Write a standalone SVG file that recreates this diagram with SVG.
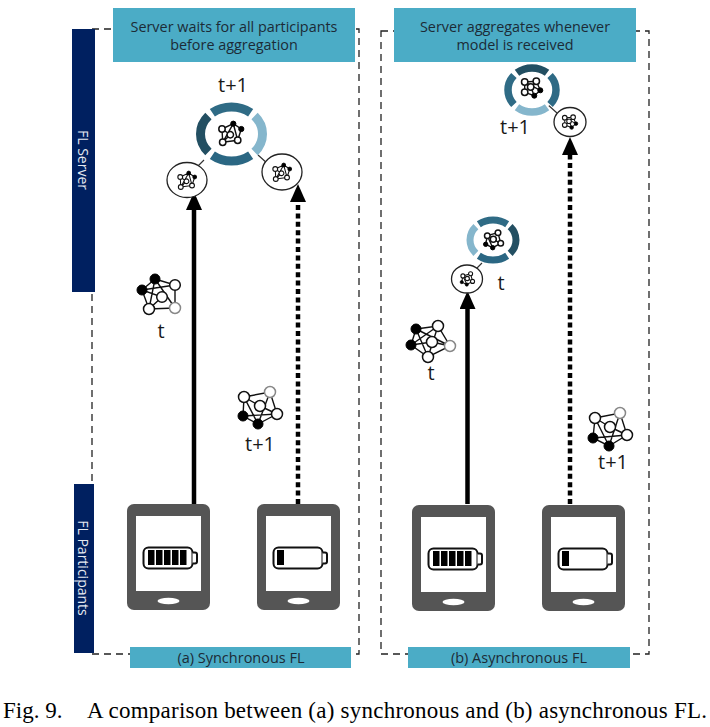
<svg xmlns="http://www.w3.org/2000/svg" xmlns:xlink="http://www.w3.org/1999/xlink" width="710" height="727" viewBox="0 0 710 727">
<style>
text{font-family:"Open Sans","Liberation Sans",sans-serif;fill:#1c2b36;text-anchor:middle}
.hd{font-size:14.400px}
.lb{font-size:20px;fill:#1a1a1a}
.ft{font-size:14.500px}
.nv{font-size:14px;fill:#e4e8f0}
.cap{font-family:"Liberation Serif",serif;font-size:23px;fill:#000;text-anchor:start}
.tl{fill:#4bacc6}
.nb{fill:#002060}
.frame{fill:none;stroke:#222;stroke-width:1.300;stroke-dasharray:7 5}
.e{stroke:#111;stroke-width:1.400;fill:none}
.w{fill:#fff;stroke:#111;stroke-width:1.500}
.g{fill:#fff;stroke:#888;stroke-width:1.500}
.k{fill:#000;stroke:#000;stroke-width:1}
.sc{fill:#fff;stroke:#222;stroke-width:1.300}
.link{stroke:#333;stroke-width:1.200}
.solid{stroke:#000;stroke-width:4.500;fill:none;marker-end:url(#ah)}
.dot{stroke:#000;stroke-width:4.500;fill:none;stroke-dasharray:5 3.400;marker-end:url(#ah)}
.ph{fill:#555}
.scr{fill:#fff}
.bt{fill:#fff;stroke:#111;stroke-width:2}
.seg{fill:none;stroke-width:9;stroke-dasharray:80 280}
</style>
<defs>
<marker id="ah" markerUnits="userSpaceOnUse" markerWidth="18" markerHeight="16" refX="0" refY="8" orient="auto" viewBox="0 0 18 16"><path d="M0 0L18 8L0 16Z" fill="#000"/></marker>
<g id="iconA">
<path class="e" d="M2.300-9.300L10.300-4M-9-4L2.300-9.300M-9-4L-.7 1.700L-8.300 9.300M-9-4L-8.300 9.300L6.700 7.300L10.300-4M2.300-9.300L-8.300 9.300M2.300-9.300L6.700 7.300"/>
<circle class="k" cx="2.300" cy="-9.300" r="2.600"/><circle class="k" cx="10.300" cy="-4" r="2.600"/>
<circle class="w" cx="-9" cy="-4" r="3.200"/><circle class="w" cx="-.7" cy="1.700" r="3.200"/><circle class="w" cx="-8.300" cy="9.300" r="3.200"/><circle class="w" cx="6.700" cy="7.300" r="3.200"/>
</g>
<g id="iconB">
<path class="e" d="M-7.300-6L4.300-6.700L8.300 2.300L2.300 7.700L-7.300 4.300L-7.300-6M-7.300-6L8.300 2.300M-1.300-1L4.300-6.700M-1.300-1L2.300 7.700"/>
<circle class="w" cx="-7.300" cy="-6" r="3.200"/><circle class="w" cx="4.300" cy="-6.700" r="3.200"/><circle class="w" cx="-1.300" cy="-1" r="3.200"/><circle class="w" cx="-7.300" cy="4.300" r="3.200"/>
<circle class="k" cx="8.300" cy="2.300" r="2.500"/><circle class="k" cx="2.300" cy="7.700" r="2.500"/>
</g>
<g id="iconC">
<path class="e" d="M-5.700-4.300L5-7.300L7.700 3.300L-.3 7.700L-7.300 4.300L-5.700-4.300M-5.700-4.300L-.3 7.700M.3-.7L7.700 3.300"/>
<circle class="w" cx="-5.700" cy="-4.300" r="2.800"/><circle class="w" cx="5" cy="-7.300" r="2.800"/><circle class="w" cx=".3" cy="-.7" r="3"/><circle class="w" cx="7.700" cy="3.300" r="2.800"/>
<circle class="k" cx="-7.300" cy="4.300" r="2.200"/><circle class="k" cx="-.3" cy="7.700" r="2.200"/>
</g>
<g id="phone">
<rect class="ph" x="0" y="0" width="83" height="106" rx="7"/>
<rect class="scr" x="9" y="12" width="65" height="75"/>
<ellipse class="scr" cx="41.500" cy="97" rx="11" ry="3.200"/>
<rect class="bt" x="16.500" y="43.500" width="49" height="21" rx="5"/>
<path class="bt" d="M65.500 48.500h2.500a2 2 0 0 1 2 2v7a2 2 0 0 1-2 2h-2.500"/>
</g>
</defs>

<g id="connectors">
<path class="link" d="M204 160L194 170M258 155L268 164M547 104L557 113M482 263L475 270"/>
<line class="solid" x1="194" y1="504" x2="194" y2="210"/>
<line class="dot" x1="298" y1="504" x2="298" y2="202"/>
<line class="solid" x1="467.500" y1="504" x2="467.500" y2="309"/>
<line class="dot" x1="570" y1="504" x2="570" y2="155"/>
</g>

<g id="frame-a"><rect class="frame" x="92" y="29" width="267" height="625"/></g>
<g id="frame-b"><rect class="frame" x="381" y="31" width="268" height="623"/></g>

<g id="bar-server"><rect class="nb" x="72" y="29" width="23" height="263"/><text class="nv" transform="translate(78 160) rotate(90)">FL Server</text></g>
<g id="bar-participants"><rect class="nb" x="74" y="484" width="20" height="169"/><text class="nv" transform="translate(78 568) rotate(90)">FL Participants</text></g>

<g id="header-a"><rect class="tl" x="113" y="8" width="242" height="54"/><text class="hd" x="234" y="32">Server waits for all participants</text><text class="hd" x="234" y="50">before aggregation</text></g>
<g id="header-b"><rect class="tl" x="394" y="8" width="242" height="54"/><text class="hd" x="515" y="32">Server aggregates whenever</text><text class="hd" x="515" y="50">model is received</text></g>

<g id="ring-a">
<text class="lb" x="233" y="92">t+1</text>
<ellipse cx="231.500" cy="134" rx="31" ry="27" fill="#fff"/>
<ellipse class="seg" cx="231.500" cy="134" rx="31" ry="27" pathLength="360" stroke="#85b6cc" stroke-dashoffset="40"/>
<ellipse class="seg" cx="231.500" cy="134" rx="31" ry="27" pathLength="360" stroke="#2b6783" stroke-dashoffset="-50"/>
<ellipse class="seg" cx="231.500" cy="134" rx="31" ry="27" pathLength="360" stroke="#234f62" stroke-dashoffset="-140"/>
<ellipse class="seg" cx="231.500" cy="134" rx="31" ry="27" pathLength="360" stroke="#2f6b85" stroke-dashoffset="-230"/>
<use href="#iconA" xlink:href="#iconA" x="231" y="133"/>
</g>
<g id="client-a1"><ellipse class="sc" cx="187" cy="180" rx="20" ry="17.500"/><use href="#iconA" transform="translate(187 180) scale(.75)"/></g>
<g id="client-a2"><ellipse class="sc" cx="282" cy="172" rx="20" ry="18"/><use href="#iconA" transform="translate(282 172) scale(.75)"/></g>

<g id="model-a-t">
<path class="e" d="M155 279L142 290L162 297L149 309L175 308L175 285L155 279L149 309M142 290L175 285M155 279L175 308M142 290L149 309"/>
<circle class="k" cx="155" cy="279" r="5"/><circle class="k" cx="142" cy="290" r="5"/>
<circle class="w" cx="175" cy="285" r="5.300"/><circle class="w" cx="162" cy="297" r="5.300"/><circle class="w" cx="149" cy="309" r="5.500"/><circle class="g" cx="175" cy="308" r="5.500"/>
<text class="lb" x="161" y="338">t</text>
</g>
<g id="model-a-t1">
<path class="e" d="M244 397L270 392L277 414L258 424L243 416L244 397M244 397L258 424M243 416L277 414M270 392L258 424M260 406L277 414M244 397L260 406"/>
<circle class="w" cx="244" cy="397" r="5.500"/><circle class="g" cx="270" cy="392" r="5.500"/><circle class="w" cx="260" cy="406" r="5.500"/><circle class="w" cx="277" cy="414" r="5.500"/>
<circle class="k" cx="243" cy="416" r="5"/><circle class="k" cx="258" cy="424" r="5"/>
<text class="lb" x="260" y="451">t+1</text>
</g>

<g id="ring-b1">
<ellipse cx="532" cy="90" rx="24" ry="22" fill="#fff"/>
<ellipse class="seg" style="stroke-width:7.500" cx="532" cy="90" rx="24" ry="22" pathLength="360" stroke="#2e6a85" stroke-dashoffset="40"/>
<ellipse class="seg" style="stroke-width:7.500" cx="532" cy="90" rx="24" ry="22" pathLength="360" stroke="#85b6cc" stroke-dashoffset="-50"/>
<ellipse class="seg" style="stroke-width:7.500" cx="532" cy="90" rx="24" ry="22" pathLength="360" stroke="#2f6b85" stroke-dashoffset="-140"/>
<ellipse class="seg" style="stroke-width:7.500" cx="532" cy="90" rx="24" ry="22" pathLength="360" stroke="#234f62" stroke-dashoffset="-230"/>
<use href="#iconB" x="532" y="88"/>
<text class="lb" x="515" y="134">t+1</text>
</g>
<g id="client-b2"><ellipse class="sc" cx="570" cy="122" rx="16" ry="14.500"/><use href="#iconB" transform="translate(570 122) scale(.72)"/></g>

<g id="ring-b2">
<ellipse cx="493" cy="240" rx="23" ry="20" fill="#fff"/>
<ellipse class="seg" style="stroke-width:7" cx="493" cy="240" rx="23" ry="20" pathLength="360" stroke="#234f62" stroke-dashoffset="40"/>
<ellipse class="seg" style="stroke-width:7" cx="493" cy="240" rx="23" ry="20" pathLength="360" stroke="#2b6783" stroke-dashoffset="-50"/>
<ellipse class="seg" style="stroke-width:7" cx="493" cy="240" rx="23" ry="20" pathLength="360" stroke="#85b6cc" stroke-dashoffset="-140"/>
<ellipse class="seg" style="stroke-width:7" cx="493" cy="240" rx="23" ry="20" pathLength="360" stroke="#2f6b85" stroke-dashoffset="-230"/>
<use href="#iconC" x="493" y="240"/>
<text class="lb" x="501" y="290">t</text>
</g>
<g id="client-b1"><ellipse class="sc" cx="467" cy="279" rx="15.500" ry="14"/><use href="#iconC" transform="translate(467 279) scale(.72)"/></g>

<g id="model-b-t">
<path class="e" d="M416 329L438 326L450 346L428 357L411 345L416 329M416 329L428 357M416 329L450 346M411 345L432 342L450 346M438 326L411 345M438 326L428 357"/>
<circle class="k" cx="416" cy="329" r="5"/><circle class="k" cx="411" cy="345" r="5"/>
<circle class="w" cx="438" cy="326" r="5.500"/><circle class="w" cx="432" cy="342" r="5.500"/><circle class="g" cx="450" cy="346" r="5.500"/><circle class="w" cx="428" cy="357" r="5.500"/>
<text class="lb" x="431" y="380">t</text>
</g>
<g id="model-b-t1">
<path class="e" d="M595 418L620 413L627 435L609 446L593 438L595 418M595 418L609 446M593 438L627 435M620 413L609 446M610 427L627 435M595 418L610 427"/>
<circle class="w" cx="595" cy="418" r="5.500"/><circle class="g" cx="620" cy="413" r="5.500"/><circle class="w" cx="610" cy="427" r="5.500"/><circle class="w" cx="627" cy="435" r="5.500"/>
<circle class="k" cx="593" cy="438" r="5"/><circle class="k" cx="609" cy="446" r="5"/>
<text class="lb" x="613" y="469">t+1</text>
</g>

<g id="phone-a1"><use href="#phone" x="127" y="504"/><path d="M148 550h6.500v15h-6.500zM156 550h6.500v15h-6.500zM164 550h6.500v15h-6.500zM172 550h6.500v15h-6.500zM180 550h6.500v15h-6.500z" fill="#000"/></g>
<g id="phone-a2"><use href="#phone" x="257" y="504"/><rect x="277" y="550" width="7" height="15" fill="#000"/></g>
<g id="phone-b1"><use href="#phone" x="412" y="505"/><path d="M433 551h6.500v15h-6.500zM441 551h6.500v15h-6.500zM449 551h6.500v15h-6.500zM457 551h6.500v15h-6.500zM465 551h6.500v15h-6.500z" fill="#000"/></g>
<g id="phone-b2"><use href="#phone" x="542" y="505"/><rect x="562" y="551" width="7" height="15" fill="#000"/></g>

<g id="footer-a"><rect class="tl" x="130" y="647" width="221" height="21"/><text class="ft" x="241" y="663">(a) Synchronous FL</text></g>
<g id="footer-b"><rect class="tl" x="408" y="647" width="222" height="21"/><text class="ft" x="519" y="663">(b) Asynchronous FL</text></g>

<g id="caption"><text class="cap" x="3" y="718">Fig. 9.</text><text class="cap" x="87" y="718" textLength="620" lengthAdjust="spacing">A comparison between (a) synchronous and (b) asynchronous FL.</text></g>
</svg>
